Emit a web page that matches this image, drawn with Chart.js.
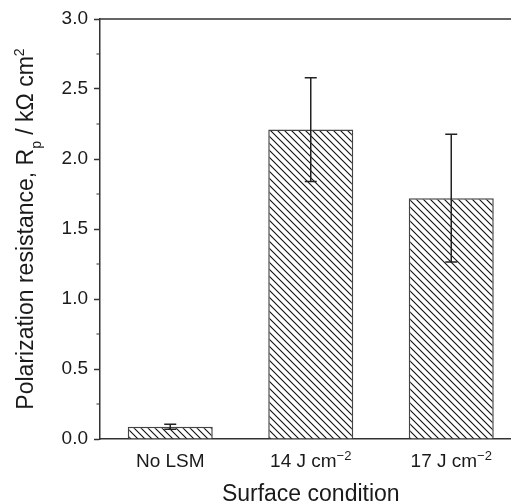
<!DOCTYPE html>
<html>
<head>
<meta charset="utf-8">
<script src="https://cdn.jsdelivr.net/npm/chart.js@4/dist/chart.umd.min.js"></script>
<style>
  html, body { margin: 0; padding: 0; background: #ffffff; overflow: hidden; }
  #wrap { width: 530px; height: 504px; }
</style>
</head>
<body>
<div id="wrap"><canvas id="chart"></canvas></div>
<script>
// data
const categories = ['No LSM', '14 J cm', '17 J cm'];
const categorySup = ['', '\u22122', '\u22122'];
const values = [0.088, 2.21, 1.72];
const errors = [0.018, 0.37, 0.456];
const yMin = 0, yMax = 3, yStep = 0.5;
const minorTicks = [0.25, 0.75, 1.25, 1.75, 2.25, 2.75];

const FONT = "'Liberation Sans', Arial, Helvetica, sans-serif";
const INK = '#1a1a1a';
const AXIS = '#333333';

// diagonal hatch "\\\\" for the bars
function hatch() {
  const s = 7;
  const c = document.createElement('canvas');
  c.width = s; c.height = s;
  const g = c.getContext('2d');
  g.fillStyle = '#ffffff';
  g.fillRect(0, 0, s, s);
  g.strokeStyle = '#111111';
  g.lineWidth = 1.1;
  g.beginPath();
  g.moveTo(0, 0); g.lineTo(s, s);
  g.moveTo(-1, s - 1); g.lineTo(1, s + 1);
  g.moveTo(s - 1, -1); g.lineTo(s + 1, 1);
  g.stroke();
  return g.createPattern(c, 'repeat');
}

// text with sub/superscript pieces, centred on x
function richText(ctx, parts, x, y) {
  let total = 0;
  parts.forEach(p => {
    ctx.font = p.size + 'px ' + FONT;
    p.w = ctx.measureText(p.t).width;
    total += p.w;
  });
  let cx = x - total / 2;
  ctx.textAlign = 'left';
  ctx.textBaseline = 'alphabetic';
  parts.forEach(p => {
    ctx.font = p.size + 'px ' + FONT;
    ctx.fillText(p.t, cx, y + (p.dy || 0));
    cx += p.w;
  });
}

const extras = {
  id: 'extras',
  afterDatasetsDraw(chart) {
    const ctx = chart.ctx;
    const y = chart.scales.y;
    const meta = chart.getDatasetMeta(0);
    ctx.save();
    ctx.strokeStyle = '#222222';
    ctx.lineWidth = 1.5;
    meta.data.forEach((bar, i) => {
      const top = y.getPixelForValue(values[i] + errors[i]);
      const bot = y.getPixelForValue(values[i] - errors[i]);
      ctx.beginPath();
      ctx.moveTo(bar.x, top); ctx.lineTo(bar.x, bot);
      ctx.moveTo(bar.x - 6, top); ctx.lineTo(bar.x + 6, top);
      ctx.moveTo(bar.x - 6, bot); ctx.lineTo(bar.x + 6, bot);
      ctx.stroke();
    });
    ctx.restore();
  },
  afterDraw(chart) {
    const ctx = chart.ctx;
    const a = chart.chartArea;
    const x = chart.scales.x, y = chart.scales.y;
    ctx.save();
    // frame top and right
    ctx.strokeStyle = AXIS;
    ctx.lineWidth = 1.5;
    ctx.beginPath();
    ctx.moveTo(a.left, a.top); ctx.lineTo(a.right, a.top); ctx.lineTo(a.right, a.bottom);
    ctx.stroke();
    // minor ticks
    ctx.lineWidth = 1.2;
    ctx.beginPath();
    minorTicks.forEach(v => {
      const py = y.getPixelForValue(v);
      ctx.moveTo(a.left - 3.5, py); ctx.lineTo(a.left, py);
    });
    ctx.stroke();
    // category labels
    ctx.fillStyle = INK;
    categories.forEach((c, i) => {
      const px = x.getPixelForValue(i);
      const parts = [{ t: c, size: 19 }];
      if (categorySup[i]) parts.push({ t: categorySup[i], size: 13, dy: -7 });
      richText(ctx, parts, px, 467);
    });
    // axis titles
    richText(ctx, [{ t: 'Surface condition', size: 23 }], (a.left + a.right) / 2, 501);
    ctx.translate(33, (a.top + a.bottom) / 2);
    ctx.rotate(-Math.PI / 2);
    richText(ctx, [
      { t: 'Polarization resistance, R', size: 23 },
      { t: 'p', size: 14, dy: 8 },
      { t: ' / k\u03A9 cm', size: 23 },
      { t: '2', size: 14, dy: -9 }
    ], 0, 0);
    ctx.restore();
  }
};

new Chart(document.getElementById('chart'), {
  type: 'bar',
  data: {
    labels: categories,
    datasets: [{
      data: values,
      backgroundColor: hatch(),
      borderColor: '#444444',
      borderWidth: 1.5,
      barPercentage: 0.605,
      categoryPercentage: 1
    }]
  },
  options: {
    responsive: true,
    maintainAspectRatio: false,
    animation: false,
    layout: { padding: { top: 19, left: 0, right: 8.5, bottom: 0 } },
    plugins: { legend: { display: false }, tooltip: { enabled: false } },
    scales: {
      x: {
        grid: { display: false },
        border: { display: true, color: AXIS, width: 1.5 },
        ticks: { display: false },
        afterFit(s) { s.height = 65; }
      },
      y: {
        min: yMin,
        max: yMax,
        afterFit(s) { s.width = 100; },
        grid: { display: true, drawOnChartArea: false, drawTicks: true, tickLength: 6, tickWidth: 1.5, tickColor: AXIS },
        border: { display: true, color: AXIS, width: 1.5 },
        ticks: {
          stepSize: yStep,
          padding: 6,
          color: INK,
          font: { family: FONT, size: 19 },
          callback: v => v.toFixed(1)
        }
      }
    }
  },
  plugins: [extras]
});
</script>
</body>
</html>
